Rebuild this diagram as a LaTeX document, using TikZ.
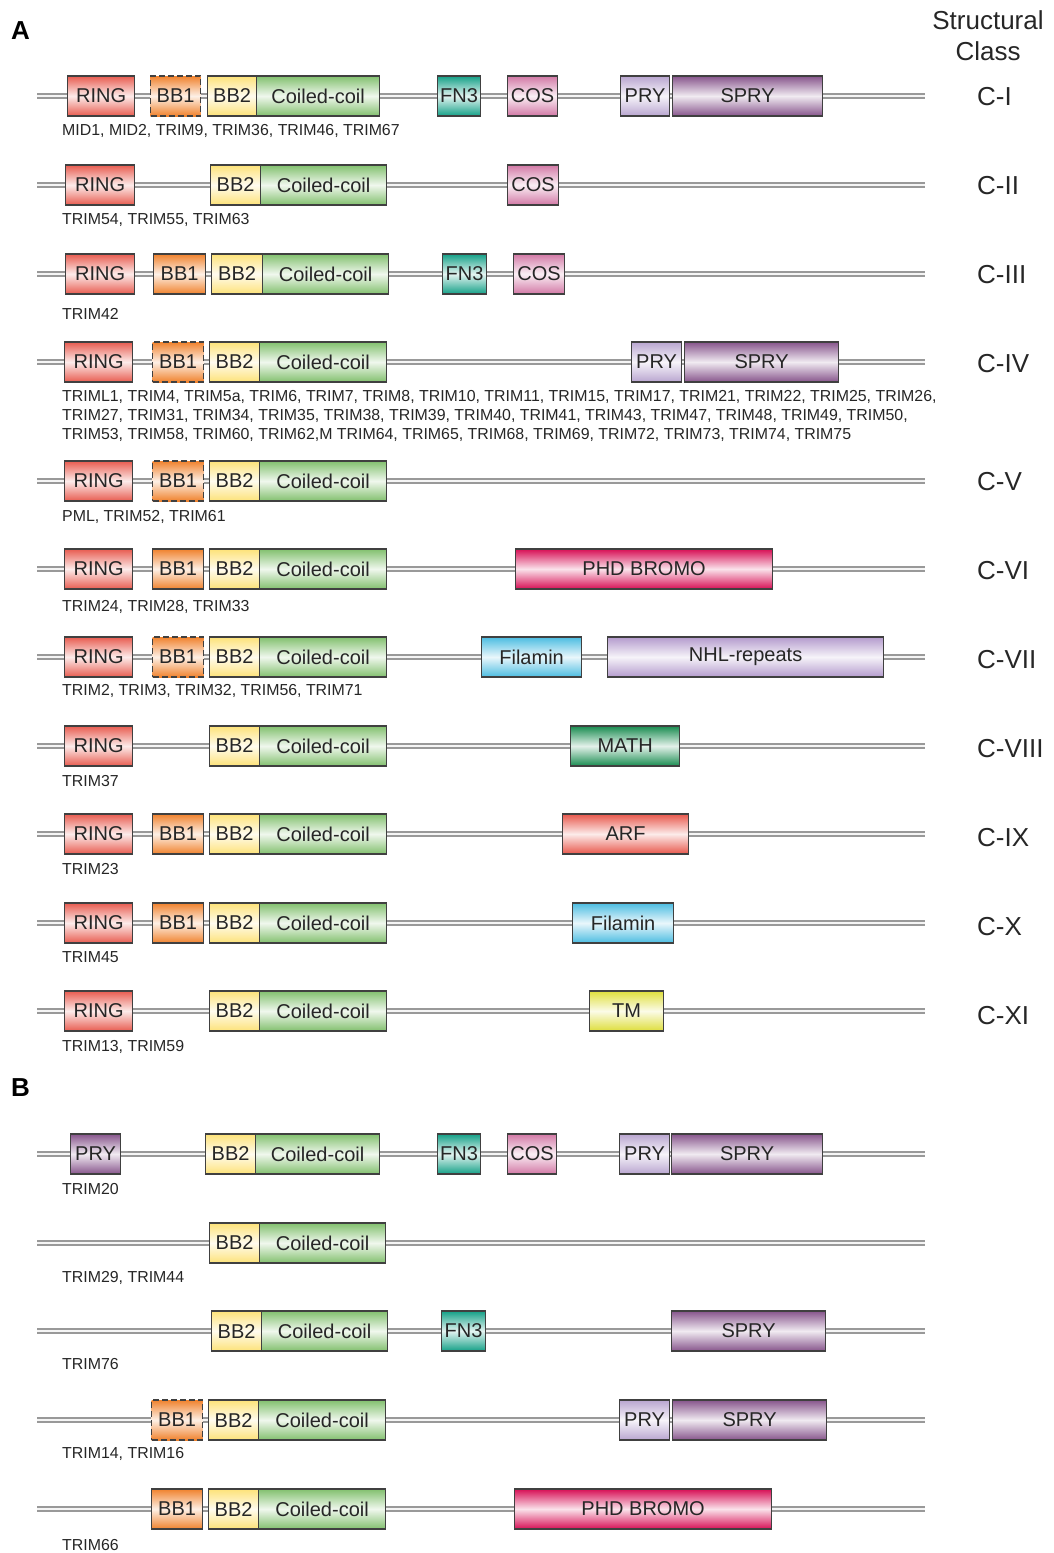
\documentclass[tikz,border=0pt]{standalone}
\usepackage{fontspec}
\setmainfont{Liberation Sans}
\usepackage{tikz}
\usetikzlibrary{positioning}

\definecolor{ringc}{RGB}{232,92,80}
\definecolor{bbonec}{RGB}{240,130,45}
\definecolor{bbtwoc}{RGB}{253,226,120}
\definecolor{coilc}{RGB}{130,192,110}
\definecolor{fnc}{RGB}{20,160,135}
\definecolor{cosc}{RGB}{210,120,165}
\definecolor{pryc}{RGB}{185,165,208}
\definecolor{spryc}{RGB}{135,85,140}
\definecolor{phdc}{RGB}{215,15,85}
\definecolor{filc}{RGB}{75,188,225}
\definecolor{nhlc}{RGB}{180,155,205}
\definecolor{mathc}{RGB}{25,140,80}
\definecolor{arfc}{RGB}{232,88,76}
\definecolor{tmc}{RGB}{222,222,60}

\tikzset{
  dom/.style={draw=black!75, line width=1.2pt, minimum height=40, inner sep=0pt, anchor=west,
    font=\fontsize{20}{20}\selectfont, text=black!85},
  tube/.style={top color=#1, bottom color=#1, middle color=#1!12!white},
  ring/.style={dom, tube=ringc},
  bbone/.style={dom, tube=bbonec},
  bbonedash/.style={bbone, dash pattern=on 6pt off 3pt},
  bbtwo/.style={dom, tube=bbtwoc},
  coil/.style={dom, tube=coilc},
  fnthree/.style={dom, tube=fnc},
  cosbox/.style={dom, tube=cosc},
  pry/.style={dom, tube=pryc},
  spry/.style={dom, tube=spryc},
  phd/.style={dom, tube=phdc},
  filamin/.style={dom, tube=filc},
  nhl/.style={dom, tube=nhlc},
  mathbox/.style={dom, tube=mathc},
  arf/.style={dom, tube=arfc},
  tm/.style={dom, tube=tmc},
  genes/.style={anchor=west, inner sep=0pt, align=left, font=\fontsize{15.9}{19}\selectfont, text=black!85},
  classlbl/.style={anchor=west, inner sep=0pt, font=\fontsize{26}{26}\selectfont, text=black!85},
  panel/.style={anchor=west, inner sep=0pt, font=\fontsize{26}{26}\selectfont\bfseries}
}

\begin{document}
\begin{tikzpicture}[x=1pt, y=-1pt]
\useasboundingbox (0,0) rectangle (1054,1553);

% backbones
\foreach \y in {96,185,274,362,481,569,657,746,834,923,1011,1154,1243,1331,1420,1509} {
  \draw[line width=6pt, gray!80] (37,\y) -- (925,\y);
  \draw[line width=2.2pt, gray!8] (37,\y) -- (925,\y);
}

\node (pA) [panel] at (11,31) {A};
\node (pB) [panel] at (11,1088) {B};
\node (head) [font=\fontsize{26}{31}\selectfont, align=center, text=black!85] at (988,36) {Structural\\Class};

%-----------------------------------------------
\node (r1ring) [ring, minimum width=67] at (67,96) {RING};
\node (r1bbone) [bbonedash, minimum width=50] at (150,96) {BB1};
\node (r1bbtwo) [bbtwo, minimum width=49] at (207,96) {BB2};
\node (r1coil) [coil, minimum width=123] at (256,96) {Coiled-coil};
\node (r1fn) [fnthree, minimum width=43] at (437,96) {FN3};
\node (r1cos) [cosbox, minimum width=50] at (507,96) {COS};
\node (r1pry) [pry, minimum width=49] at (620,96) {PRY};
\node (r1spry) [spry, minimum width=150] at (672,96) {SPRY};
\node (r1genes) [genes] at (62,131) {MID1, MID2, TRIM9, TRIM36, TRIM46, TRIM67};
\node (r1cls) [classlbl] at (977,97) {C-I};
%-----------------------------------------------
\node (r2ring) [ring, minimum width=69] at (65,185) {RING};
\node (r2bbtwo) [bbtwo, minimum width=50] at (210,185) {BB2};
\node (r2coil) [coil, minimum width=126] at (260,185) {Coiled-coil};
\node (r2cos) [cosbox, minimum width=51] at (507,185) {COS};
\node (r2genes) [genes] at (62,220) {TRIM54, TRIM55, TRIM63};
\node (r2cls) [classlbl] at (977,186) {C-II};
%-----------------------------------------------
\node (r3ring) [ring, minimum width=69] at (65,274) {RING};
\node (r3bbone) [bbone, minimum width=52] at (153,274) {BB1};
\node (r3bbtwo) [bbtwo, minimum width=51] at (211,274) {BB2};
\node (r3coil) [coil, minimum width=126] at (262,274) {Coiled-coil};
\node (r3fn) [fnthree, minimum width=44] at (442,274) {FN3};
\node (r3cos) [cosbox, minimum width=51] at (513,274) {COS};
\node (r3genes) [genes] at (62,314) {TRIM42};
\node (r3cls) [classlbl] at (977,275) {C-III};
%-----------------------------------------------
\node (r4ring) [ring, minimum width=68] at (64,362) {RING};
\node (r4bbone) [bbonedash, minimum width=51] at (152,362) {BB1};
\node (r4bbtwo) [bbtwo, minimum width=50] at (209,362) {BB2};
\node (r4coil) [coil, minimum width=127] at (259,362) {Coiled-coil};
\node (r4pry) [pry, minimum width=50] at (631,362) {PRY};
\node (r4spry) [spry, minimum width=154] at (684,362) {SPRY};
\node (r4genes) [genes] at (62,416) {TRIML1, TRIM4, TRIM5a, TRIM6, TRIM7, TRIM8, TRIM10, TRIM11, TRIM15, TRIM17, TRIM21, TRIM22, TRIM25, TRIM26,\\
TRIM27, TRIM31, TRIM34, TRIM35, TRIM38, TRIM39, TRIM40, TRIM41, TRIM43, TRIM47, TRIM48, TRIM49, TRIM50,\\
TRIM53, TRIM58, TRIM60, TRIM62,M TRIM64, TRIM65, TRIM68, TRIM69, TRIM72, TRIM73, TRIM74, TRIM75};
\node (r4cls) [classlbl] at (977,364) {C-IV};
%-----------------------------------------------
\node (r5ring) [ring, minimum width=68] at (64,481) {RING};
\node (r5bbone) [bbonedash, minimum width=51] at (152,481) {BB1};
\node (r5bbtwo) [bbtwo, minimum width=50] at (209,481) {BB2};
\node (r5coil) [coil, minimum width=127] at (259,481) {Coiled-coil};
\node (r5genes) [genes] at (62,517) {PML, TRIM52, TRIM61};
\node (r5cls) [classlbl] at (977,482) {C-V};
%-----------------------------------------------
\node (r6ring) [ring, minimum width=68] at (64,569) {RING};
\node (r6bbone) [bbone, minimum width=51] at (152,569) {BB1};
\node (r6bbtwo) [bbtwo, minimum width=50] at (209,569) {BB2};
\node (r6coil) [coil, minimum width=127] at (259,569) {Coiled-coil};
\node (r6phd) [phd, minimum width=257] at (515,569) {PHD BROMO};
\node (r6genes) [genes] at (62,607) {TRIM24, TRIM28, TRIM33};
\node (r6cls) [classlbl] at (977,571) {C-VI};
%-----------------------------------------------
\node (r7ring) [ring, minimum width=68] at (64,657) {RING};
\node (r7bbone) [bbonedash, minimum width=51] at (152,657) {BB1};
\node (r7bbtwo) [bbtwo, minimum width=50] at (209,657) {BB2};
\node (r7coil) [coil, minimum width=127] at (259,657) {Coiled-coil};
\node (r7fil) [filamin, minimum width=100] at (481,657) {Filamin};
\node (r7nhl) [nhl, minimum width=276] at (607,657) {NHL-repeats};
\node (r7genes) [genes] at (62,691) {TRIM2, TRIM3, TRIM32, TRIM56, TRIM71};
\node (r7cls) [classlbl] at (977,660) {C-VII};
%-----------------------------------------------
\node (r8ring) [ring, minimum width=68] at (64,746) {RING};
\node (r8bbtwo) [bbtwo, minimum width=50] at (209,746) {BB2};
\node (r8coil) [coil, minimum width=127] at (259,746) {Coiled-coil};
\node (r8math) [mathbox, minimum width=109] at (570,746) {MATH};
\node (r8genes) [genes] at (62,781) {TRIM37};
\node (r8cls) [classlbl] at (977,749) {C-VIII};
%-----------------------------------------------
\node (r9ring) [ring, minimum width=68] at (64,834) {RING};
\node (r9bbone) [bbone, minimum width=51] at (152,834) {BB1};
\node (r9bbtwo) [bbtwo, minimum width=50] at (209,834) {BB2};
\node (r9coil) [coil, minimum width=127] at (259,834) {Coiled-coil};
\node (r9arf) [arf, minimum width=126] at (562,834) {ARF};
\node (r9genes) [genes] at (62,869) {TRIM23};
\node (r9cls) [classlbl] at (977,838) {C-IX};
%-----------------------------------------------
\node (r10ring) [ring, minimum width=68] at (64,923) {RING};
\node (r10bbone) [bbone, minimum width=51] at (152,923) {BB1};
\node (r10bbtwo) [bbtwo, minimum width=50] at (209,923) {BB2};
\node (r10coil) [coil, minimum width=127] at (259,923) {Coiled-coil};
\node (r10fil) [filamin, minimum width=101] at (572,923) {Filamin};
\node (r10genes) [genes] at (62,957) {TRIM45};
\node (r10cls) [classlbl] at (977,927) {C-X};
%-----------------------------------------------
\node (r11ring) [ring, minimum width=68] at (64,1011) {RING};
\node (r11bbtwo) [bbtwo, minimum width=50] at (209,1011) {BB2};
\node (r11coil) [coil, minimum width=127] at (259,1011) {Coiled-coil};
\node (r11tm) [tm, minimum width=74] at (589,1011) {TM};
\node (r11genes) [genes] at (62,1047) {TRIM13, TRIM59};
\node (r11cls) [classlbl] at (977,1016) {C-XI};

%-----------------------------------------------
% panel B
%-----------------------------------------------
\node (b1prya) [spry, minimum width=50] at (70,1154) {PRY};
\node (b1bbtwo) [bbtwo, minimum width=50] at (205,1154) {BB2};
\node (b1coil) [coil, minimum width=124] at (255,1154) {Coiled-coil};
\node (b1fn) [fnthree, minimum width=43] at (437,1154) {FN3};
\node (b1cos) [cosbox, minimum width=49] at (507,1154) {COS};
\node (b1pry) [pry, minimum width=50] at (619,1154) {PRY};
\node (b1spry) [spry, minimum width=151] at (671,1154) {SPRY};
\node (b1genes) [genes] at (62,1189) {TRIM20};
%-----------------------------------------------
\node (b2bbtwo) [bbtwo, minimum width=50] at (209,1243) {BB2};
\node (b2coil) [coil, minimum width=126] at (259,1243) {Coiled-coil};
\node (b2genes) [genes] at (62,1278) {TRIM29, TRIM44};
%-----------------------------------------------
\node (b3bbtwo) [bbtwo, minimum width=50] at (211,1331) {BB2};
\node (b3coil) [coil, minimum width=126] at (261,1331) {Coiled-coil};
\node (b3fn) [fnthree, minimum width=44] at (441,1331) {FN3};
\node (b3spry) [spry, minimum width=154] at (671,1331) {SPRY};
\node (b3genes) [genes] at (62,1364) {TRIM76};
%-----------------------------------------------
\node (b4bbone) [bbonedash, minimum width=51] at (151,1420) {BB1};
\node (b4bbtwo) [bbtwo, minimum width=50] at (208,1420) {BB2};
\node (b4coil) [coil, minimum width=127] at (258,1420) {Coiled-coil};
\node (b4pry) [pry, minimum width=50] at (619,1420) {PRY};
\node (b4spry) [spry, minimum width=154] at (672,1420) {SPRY};
\node (b4genes) [genes] at (62,1454) {TRIM14, TRIM16};
%-----------------------------------------------
\node (b5bbone) [bbone, minimum width=51] at (151,1509) {BB1};
\node (b5bbtwo) [bbtwo, minimum width=50] at (208,1509) {BB2};
\node (b5coil) [coil, minimum width=127] at (258,1509) {Coiled-coil};
\node (b5phd) [phd, minimum width=257] at (514,1509) {PHD BROMO};
\node (b5genes) [genes] at (62,1545) {TRIM66};
\end{tikzpicture}
\end{document}
